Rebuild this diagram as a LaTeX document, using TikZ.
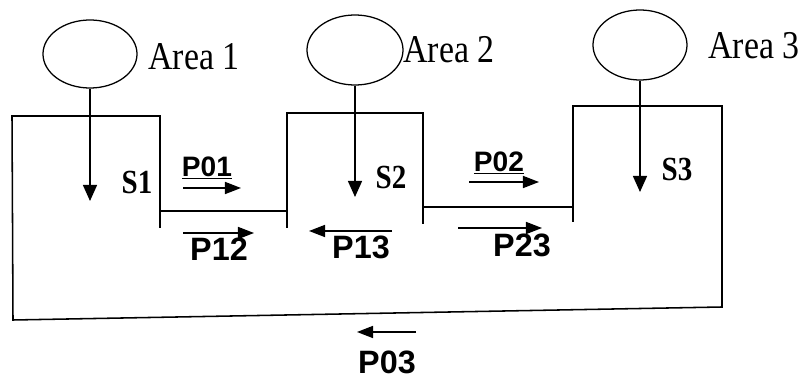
\documentclass[tikz,border=0pt]{standalone}
\usepackage{fontspec}
\setmainfont{Liberation Serif}
\newfontfamily\arealblfont[FakeStretch=0.86]{Liberation Serif}
\newfontfamily\plabelfont{Liberation Sans}
\usetikzlibrary{positioning,shapes.geometric,arrows.meta}

\begin{document}
\begin{tikzpicture}[
    x=0.025cm, y=-0.025cm,
    area/.style={draw, ellipse, inner sep=0pt, line width=0.9pt},
    arealbl/.style={font=\arealblfont\fontsize{28}{28}\selectfont, anchor=west, inner sep=0pt},
    slbl/.style={font=\arealblfont\bfseries\fontsize{24}{24}\selectfont, inner sep=0pt},
    plbl/.style={font=\plabelfont\bfseries\fontsize{23}{23}\selectfont, inner sep=0pt},
    plblup/.style={font=\plabelfont\bfseries\fontsize{20}{20}\selectfont, inner sep=0pt},
    wall/.style={line width=1.1pt},
    sarr/.style={-{Triangle[length=0.4cm, width=0.35cm]}, line width=1pt},
    parr/.style={-{Triangle[length=0.4cm, width=0.3cm]}, line width=1.1pt}
]
    \useasboundingbox (0,0) rectangle (805,380);

    % areas
    \node[area, minimum width=2.35cm, minimum height=1.7cm] (a1) at (90,54) {};
    \node[area, minimum width=2.4cm, minimum height=1.75cm] (a2) at (355,50) {};
    \node[area, minimum width=2.35cm, minimum height=1.75cm] (a3) at (640,45) {};
    \node[arealbl] (a1l) at (148,57) {Area 1};
    \node[arealbl] (a2l) at (403,50) {Area 2};
    \node[arealbl] (a3l) at (708,46) {Area 3};

    % system outline
    \draw[wall] (12,116) -- (160,116) -- (160,211) -- (287,211) -- (287,113)
        -- (423,113) -- (423,207) -- (573,207) -- (573,106) -- (722,106)
        -- (722,307) -- (13,320) -- cycle;
    \draw[wall] (160,211) -- (160,228);
    \draw[wall] (287,211) -- (287,228);
    \draw[wall] (423,207) -- (423,224);
    \draw[wall] (573,207) -- (573,222);

    \node[slbl] (s1) at (137,182) {S1};
    \node[slbl] (s2) at (391,177) {S2};
    \node[slbl] (s3) at (677,169) {S3};

    % area inflows
    \coordinate (s1in) at (90,201);
    \coordinate (s2in) at (355,197);
    \coordinate (s3in) at (640,192);
    \draw[sarr] (a1) -- (s1in);
    \draw[sarr] (a2) -- (s2in);
    \draw[sarr] (a3) -- (s3in);

    % flows
    \node[plblup] (p01) at (207,168) {\underline{P01}};
    \node[plblup] (p02) at (499,163) {\underline{P02}};
    \node[plbl] (p12) at (219,249) {P12};
    \node[plbl] (p13) at (361,247) {P13};
    \node[plbl] (p23) at (522,245) {P23};
    \node[plbl] (p03) at (387,362) {P03};

    \coordinate (p01a) at (183,188);  \coordinate (p01b) at (241,188);
    \coordinate (p02a) at (469,182);  \coordinate (p02b) at (539,182);
    \coordinate (p12a) at (183,233);  \coordinate (p12b) at (254,233);
    \coordinate (p13a) at (392,231);  \coordinate (p13b) at (309,231);
    \coordinate (p23a) at (458,228);  \coordinate (p23b) at (542,228);
    \coordinate (p03a) at (416,332);  \coordinate (p03b) at (357,332);
    \draw[parr] (p01a) -- (p01b);
    \draw[parr] (p02a) -- (p02b);
    \draw[parr] (p12a) -- (p12b);
    \draw[parr] (p13a) -- (p13b);
    \draw[parr] (p23a) -- (p23b);
    \draw[parr] (p03a) -- (p03b);
\end{tikzpicture}
\end{document}
